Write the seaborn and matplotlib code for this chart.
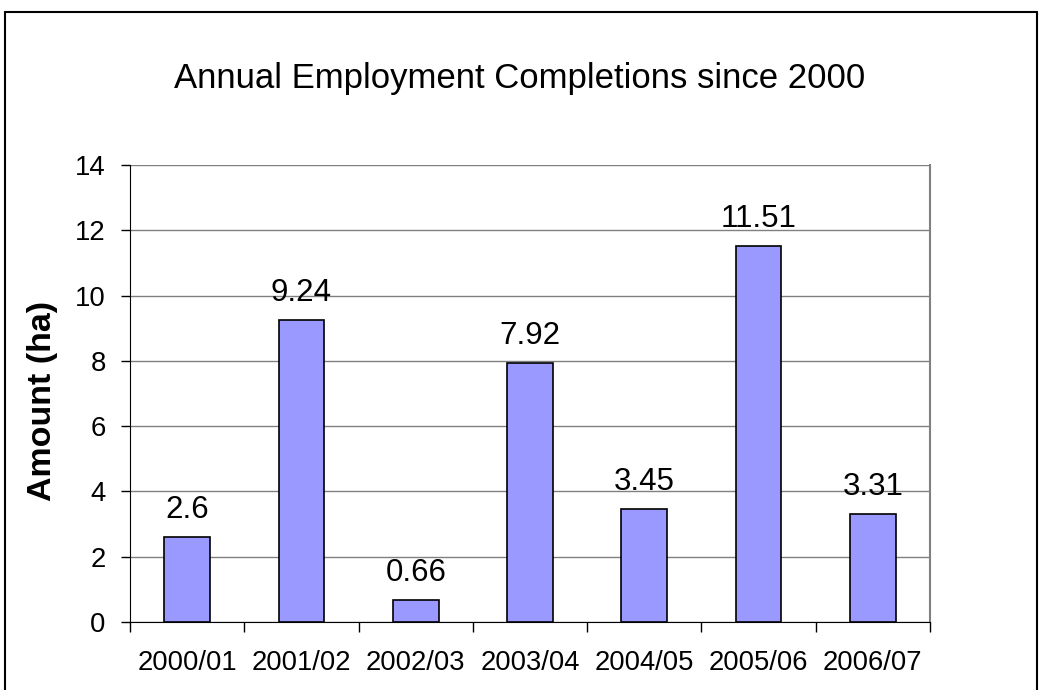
import seaborn as sns
import matplotlib.pyplot as plt
import pandas as pd
from matplotlib.lines import Line2D

# Dados
years = ["2000/01", "2001/02", "2002/03", "2003/04", "2004/05", "2005/06", "2006/07"]
amounts = [2.6, 9.24, 0.66, 7.92, 3.45, 11.51, 3.31]
labels = ["2.6", "9.24", "0.66", "7.92", "3.45", "11.51", "3.31"]

df = pd.DataFrame({"year": years, "amount": amounts})

sns.set_style("white")
plt.rcParams["font.family"] = ["Liberation Sans", "DejaVu Sans"]
plt.rcParams["text.color"] = "black"
plt.rcParams["xtick.color"] = "black"
plt.rcParams["ytick.color"] = "black"
plt.rcParams["axes.labelcolor"] = "black"

fig = plt.figure(figsize=(10.41, 6.9), dpi=100)
ax = fig.add_axes([130 / 1041, 1 - 622 / 690, 800 / 1041, 457 / 690])

sns.barplot(data=df, x="year", y="amount", color="#9999FF", saturation=1,
            edgecolor="black", linewidth=1.2, width=0.4, ax=ax, zorder=3)

ax.set_xlim(-0.5, len(years) - 0.5)
ax.set_ylim(0, 14)
ax.set_yticks(range(0, 15, 2))
ax.yaxis.grid(True, color="#808080", linewidth=1.0, zorder=0)

# rótulos de valores acima das barras
for i, (v, t) in enumerate(zip(amounts, labels)):
    ax.annotate(t, (i, v), xytext=(0, 14), textcoords="offset points",
                ha="center", va="baseline", fontsize=22.5)

ax.spines["top"].set_visible(False)
ax.spines["right"].set_color("#808080")
ax.spines["right"].set_linewidth(1.5)
ax.spines["left"].set_color("black")
ax.spines["bottom"].set_color("black")

# ticks nas fronteiras das categorias
ax.set_xticks([i - 0.5 for i in range(len(years) + 1)], minor=True)
ax.tick_params(axis="x", which="minor", length=7, width=1, color="black", direction="out", bottom=True)
ax.tick_params(axis="x", which="major", length=0, labelsize=19.7, pad=20)
ax.tick_params(axis="y", which="major", length=6.5, width=1, color="black", direction="out", left=True,
               labelsize=19.8, pad=11)

ax.set_xlabel("")
ax.set_ylabel("")
fig.text(43 / 1041, 1 - 401 / 690, "Amount (ha)", rotation=90, ha="center", va="center",
         fontsize=24.5, fontweight="bold")

fig.text(520 / 1041, 1 - 88 / 690, "Annual Employment Completions since 2000",
         ha="center", va="baseline", fontsize=25)

# moldura externa
for xs, ys in [([4.5 / 1041, 4.5 / 1041], [0, 1 - 12 / 690]),
               ([4.5 / 1041, 1037 / 1041], [1 - 12 / 690, 1 - 12 / 690]),
               ([1037 / 1041, 1037 / 1041], [0, 1 - 12 / 690])]:
    fig.add_artist(Line2D(xs, ys, color="black", linewidth=1.5, transform=fig.transFigure))

fig.savefig("out.png", dpi=100)
